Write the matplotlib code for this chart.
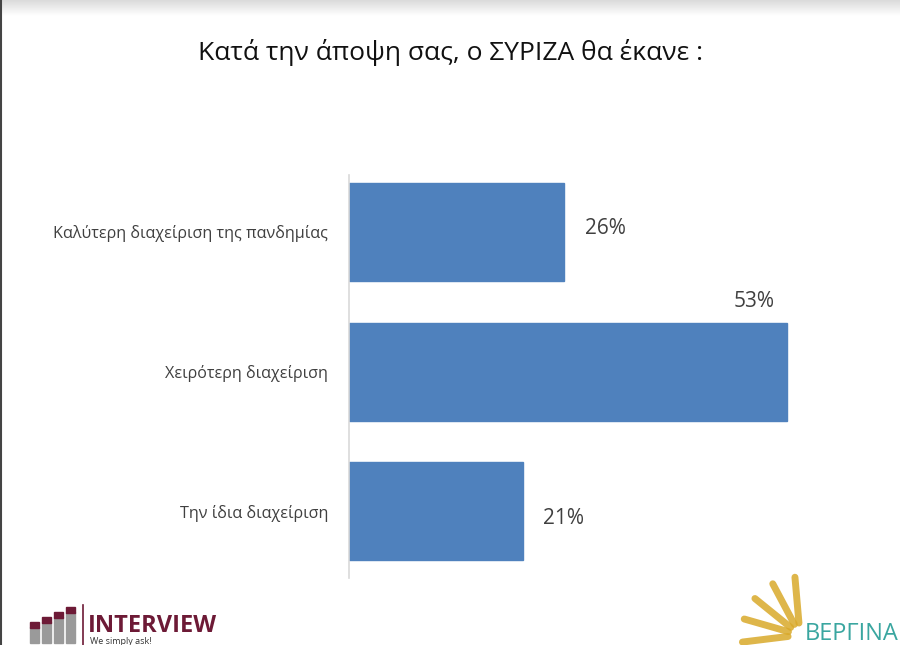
import matplotlib
matplotlib.use("Agg")
import matplotlib.pyplot as plt
import numpy as np

categories = ["Καλύτερη διαχείριση της πανδημίας", "Χειρότερη διαχείριση", "Την ίδια διαχείριση"]
values = [26, 53, 21]
value_labels = ["26%", "53%", "21%"]
title = "Κατά την άποψη σας, ο ΣΥΡΙΖΑ θα έκανε :"

W, H = 900, 645
fig = plt.figure(figsize=(W / 100, H / 100), dpi=100)
fig.patch.set_facecolor("white")

# top gray gradient band
bg = fig.add_axes([0, 0, 1, 1], zorder=-5)
bg.set_xlim(0, W); bg.set_ylim(H, 0); bg.axis("off")
grad = np.linspace(0.86, 1.0, 20).reshape(-1, 1)
bg.imshow(np.dstack([grad, grad, grad]), extent=[0, W, 16, 0], aspect="auto")
bg.plot([1, 1], [0, H], color="#444444", lw=1.5)
bg.set_xlim(0, W); bg.set_ylim(H, 0)

# axes: x from 349 px
x0 = 349
ppu = (787 - 349) / 53.0
xmax = (W - x0) / ppu
ax = fig.add_axes([x0 / W, (H - 578) / H, (W - x0) / W, (578 - 175) / H])
ax.set_xlim(0, xmax)
ypos = [232, 371.5, 511]
top, bot = 175, 578
ax.set_ylim(bot, top)
bh = 98
ax.barh(ypos, values, height=bh, color="#4f81bd", edgecolor="#4f81bd")
ax.set_facecolor("none")
for s in ["top", "right", "bottom"]:
    ax.spines[s].set_visible(False)
ax.spines["left"].set_color("#d9d9d9")
ax.spines["left"].set_linewidth(1.2)
ax.set_xticks([])
ax.set_yticks(ypos)
ax.set_yticklabels(categories, fontsize=11.6, color="#404040", family="Open Sans")
ax.tick_params(axis="y", length=0, pad=15)

# value labels
ax.text(values[0] + 2.5, ypos[0] - 4, value_labels[0], fontsize=15, color="#404040",
        family="Open Sans", va="center", ha="left")
ax.text(values[1] - 1.5, ypos[1] - 70, value_labels[1], fontsize=15, color="#404040",
        family="Open Sans", va="center", ha="right")
ax.text(values[2] + 2.5, ypos[2] + 7, value_labels[2], fontsize=15, color="#404040",
        family="Open Sans", va="center", ha="left")

fig.text(450 / W, 1 - 52 / H, title, fontsize=19, color="#111111",
         family="Open Sans", ha="center", va="center")

# INTERVIEW logo (approximation)
for i, (bx, bhgt) in enumerate([(30, 16), (42, 21), (54, 26), (66, 31)]):
    bg.add_patch(plt.Rectangle((bx, 643 - bhgt), 9, bhgt, color="#9a9a9a"))
    bg.add_patch(plt.Rectangle((bx, 643 - bhgt - 5), 9, 6, color="#6d1a36"))
bg.plot([83, 83], [605, 645], color="#6d1a36", lw=1.2)
bg.text(88, 626, "INTERVIEW", fontsize=17, fontweight="bold", color="#6d1a36",
        family="Open Sans", va="center", ha="left")
bg.text(90, 641, "We simply ask!", fontsize=6.5, color="#333333", family="Open Sans",
        va="center", ha="left")

# ΒΕΡΓΙΝΑ logo (approximation)
cx, cy = 800, 635
for ang in [95, 118, 141, 164, 187]:
    a = np.deg2rad(ang)
    bg.plot([cx + 12 * np.cos(a), cx + 58 * np.cos(a)], [cy - 12 * np.sin(a), cy - 58 * np.sin(a)],
            color="#d9a92a", lw=5, solid_capstyle="round", alpha=0.85)
bg.text(805, 634, "ΒΕΡΓΙΝΑ", fontsize=17, color="#3aa6a0", family="Open Sans",
        va="center", ha="left")

fig.savefig("out.png", dpi=100)
